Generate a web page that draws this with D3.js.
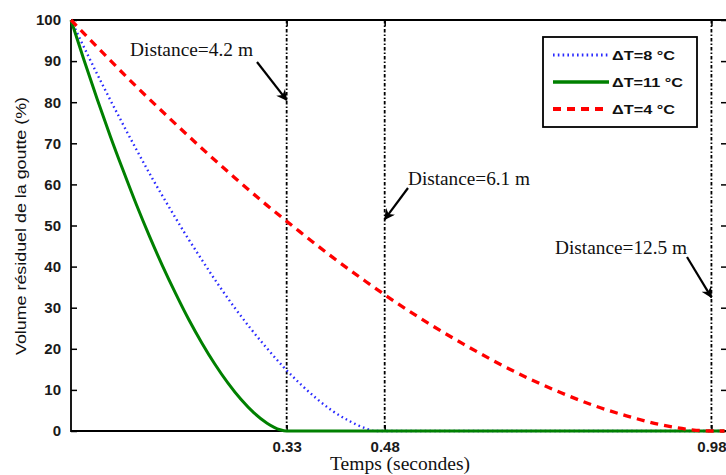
<!DOCTYPE html>
<html><head><meta charset="utf-8">
<script src="https://cdn.jsdelivr.net/npm/d3@7"></script>
<style>body{margin:0;background:#fff}svg{display:block}</style>
</head><body>
<svg id="c" width="726" height="475"></svg>
<script>
// ---- data ----
const yTicks = [0,10,20,30,40,50,60,70,80,90,100];
const xMarks = [0.33, 0.48, 0.98];
const xMarkLabels = ["0.33","0.48","0.98"];
const distances = ["Distance=4.2 m","Distance=6.1 m","Distance=12.5 m"];
const seriesNames = ["\u0394T=8 \u00B0C","\u0394T=11 \u00B0C","\u0394T=4 \u00B0C"];
// ΔT=8 °C (blue dotted)
const tBlue = [0,0.025,0.05,0.075,0.1,0.125,0.15,0.175,0.2,0.225,0.25,0.275,0.3,0.325,0.35,0.375,0.4,0.425,0.45,0.465,1.0];
const vBlue = [100,91.7,83.7,76.0,68.5,61.3,54.5,47.9,41.7,35.7,30.1,24.9,20.1,15.6,11.6,8.0,4.9,2.5,0.7,0,0];
// ΔT=11 °C (green solid)
const tGreen = [0,0.02,0.04,0.06,0.08,0.10,0.12,0.14,0.16,0.18,0.20,0.22,0.24,0.26,0.28,0.30,0.32,0.33,1.0];
const vGreen = [100,90.2,80.8,71.8,63.3,55.1,47.4,40.2,33.5,27.2,21.5,16.3,11.7,7.7,4.4,1.9,0.3,0,0];
// ΔT=4 °C (red dashed)
const tRed = [0,0.05,0.1,0.15,0.2,0.25,0.3,0.35,0.4,0.45,0.5,0.55,0.6,0.65,0.7,0.75,0.8,0.85,0.9,0.95,0.98,1.0];
const vRed = [100,91.8,83.8,76.2,68.8,61.7,54.9,48.5,42.3,36.5,31.0,25.9,21.2,16.8,12.8,9.3,6.2,3.7,1.6,0.3,0,0];

const svg = d3.select("#c");
const L = 71, T = 20, B = 431, RV = 724.5;
const x = d3.scaleLinear().domain([0,1]).range([L, RV]);
const y = d3.scaleLinear().domain([0,100]).range([B, T]);
const sans = "Liberation Sans, Arial, sans-serif";
const serif = "Liberation Serif, Times New Roman, serif";

// frame
svg.append("path").attr("d",`M${L},${T}H730M${L},${T}V${B}H730`)
  .attr("fill","none").attr("stroke","#000").attr("stroke-width",1.8);

// y axis (left), ticks inward
const yAx = svg.append("g").attr("transform",`translate(${L},0)`)
  .call(d3.axisLeft(y).tickValues(yTicks).tickSize(-6).tickPadding(10).tickFormat(d3.format("d")));
yAx.select(".domain").remove();
yAx.selectAll("line").attr("stroke","#000").attr("stroke-width",1.5);
yAx.selectAll("text").attr("font-family",sans).attr("font-weight","bold").attr("font-size",15).attr("fill","#1a1a1a");
// right ticks
const yAxR = svg.append("g").attr("transform",`translate(727,0)`)
  .call(d3.axisRight(y).tickValues(yTicks).tickSize(-6).tickFormat(""));
yAxR.select(".domain").remove();
yAxR.selectAll("line").attr("stroke","#000").attr("stroke-width",1.5);

// x axis
const xAx = svg.append("g").attr("transform",`translate(0,${B})`)
  .call(d3.axisBottom(x).tickValues(xMarks).tickSize(-6).tickPadding(10).tickFormat((d,i)=>xMarkLabels[i]));
xAx.select(".domain").remove();
xAx.selectAll("line").attr("stroke","#000").attr("stroke-width",1.5);
xAx.selectAll("text").attr("font-family",sans).attr("font-weight","bold").attr("font-size",15).attr("fill","#1a1a1a");
const xAxT = svg.append("g").attr("transform",`translate(0,${T})`)
  .call(d3.axisTop(x).tickValues(xMarks).tickSize(-6).tickFormat(""));
xAxT.select(".domain").remove();
xAxT.selectAll("line").attr("stroke","#000").attr("stroke-width",1.5);

// vertical dash-dot marker lines
svg.append("g").selectAll("line").data(xMarks).join("line")
  .attr("x1",d=>x(d)).attr("x2",d=>x(d)).attr("y1",T).attr("y2",B)
  .attr("stroke","#000").attr("stroke-width",1.8).attr("stroke-dasharray","3.5,2,1.5,2");

// curves
const line = d3.line().x(d=>x(d[0])).y(d=>y(d[1])).curve(d3.curveMonotoneX);
const styles = [
  {c:"#2a2aff", w:2.4, dash:"1.6,3.2"},
  {c:"#008000", w:3, dash:null},
  {c:"#ff0000", w:3.3, dash:"8,6"}
];
const series = [d3.zip(tBlue,vBlue), d3.zip(tGreen,vGreen), d3.zip(tRed,vRed)];
series.forEach((s,i)=>{
  svg.append("path").datum(s).attr("d",line).attr("fill","none")
    .attr("stroke",styles[i].c).attr("stroke-width",styles[i].w)
    .attr("stroke-dasharray",styles[i].dash);
});

// legend
const lg = svg.append("g");
lg.append("rect").attr("x",543).attr("y",37).attr("width",154).attr("height",90)
  .attr("fill","#fff").attr("stroke","#000").attr("stroke-width",1.8);
const rows = [55,82,109];
seriesNames.forEach((n,i)=>{
  lg.append("line").attr("x1",553).attr("x2",609).attr("y1",rows[i]).attr("y2",rows[i])
    .attr("stroke",styles[i].c).attr("stroke-width",styles[i].w+0.6).attr("stroke-dasharray",styles[i].dash);
  lg.append("text").attr("x",612).attr("y",rows[i]).attr("dy","0.36em")
    .attr("font-family",sans).attr("font-weight","bold").attr("font-size",13)
    .attr("textLength", i===1?71:63).attr("lengthAdjust","spacingAndGlyphs")
    .attr("fill","#111").text(n);
});

// annotations
const ann = [
  {tx:130, ty:50, w:123, x1:257, y1:62, mx:0.33, vy:80.5},
  {tx:408, ty:179, w:122, x1:408, y1:188, mx:0.48, vy:51.5},
  {tx:555, ty:248, w:132, x1:687, y1:257, mx:0.98, vy:32.5}
];
const defs = svg.append("defs");
defs.append("marker").attr("id","ah").attr("viewBox","0 0 10 10").attr("refX",9).attr("refY",5)
  .attr("markerWidth",5).attr("markerHeight",5).attr("orient","auto")
  .append("path").attr("d","M0,0L10,5L0,10L3,5Z").attr("fill","#000");
ann.forEach((a,i)=>{
  svg.append("text").attr("x",a.tx).attr("y",a.ty).attr("dy","0.35em")
    .attr("font-family",serif).attr("font-size",18)
    .attr("textLength",a.w).attr("lengthAdjust","spacingAndGlyphs").attr("fill","#111").text(distances[i]);
  svg.append("line").attr("x1",a.x1).attr("y1",a.y1).attr("x2",x(a.mx)).attr("y2",y(a.vy))
    .attr("stroke","#000").attr("stroke-width",2.2).attr("marker-end","url(#ah)");
});

// axis titles
svg.append("text").attr("x",400).attr("y",470).attr("text-anchor","middle")
  .attr("font-family",serif).attr("font-size",18)
  .attr("textLength",140).attr("lengthAdjust","spacingAndGlyphs").attr("fill","#111").text("Temps (secondes)");
svg.append("text").attr("transform","translate(21,226) rotate(-90)").attr("text-anchor","middle").attr("dy","0.35em")
  .attr("font-family",sans).attr("font-size",15)
  .attr("textLength",258).attr("lengthAdjust","spacingAndGlyphs").attr("fill","#111")
  .text("Volume résiduel de la  goutte (%)");
</script>
</body></html>
